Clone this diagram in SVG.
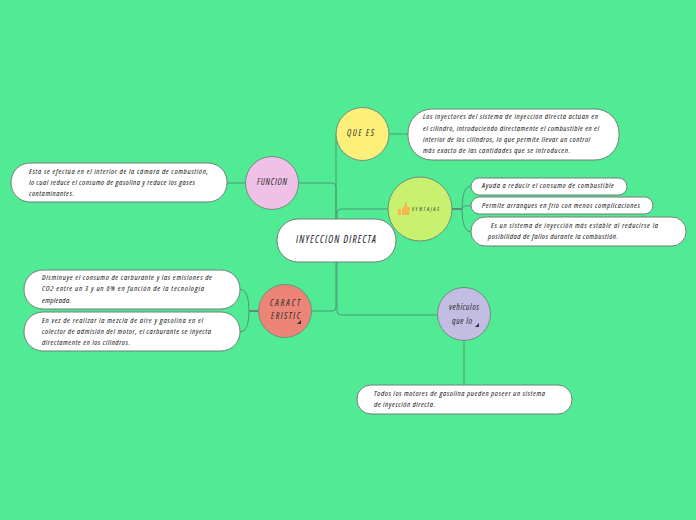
<svg xmlns="http://www.w3.org/2000/svg" width="696" height="520" viewBox="0 0 696 520">
<style>
.c{fill:none;stroke:#4f9a78;stroke-width:1}
.t{fill:none;stroke:#55917a;stroke-width:1.800}
.b{fill:#fff;stroke:#6f7f76;stroke-width:1}
.o{stroke:#6f8f7c;stroke-width:1}
text{font-family:"Open Sans","Liberation Sans",Arial,sans-serif;font-stretch:75%;font-style:italic;fill:#111;font-size:7.800px}
.n{font-size:8.800px;fill:#2a2a2a}
.m{font-size:10px;fill:#15152a}
</style>
<rect width="696" height="520" fill="#50eb94"/>
<g id="connectors">
<path class="c" d="M336 219V134H340M298 183H332Q336 183 336 187V219M388 209H341Q337 209 337 213V219"/>
<path class="c" d="M336 262V307Q336 311 332 311H311M337 262V311Q337 315 341 315H438"/>
<path class="c" d="M388 134H408M246 183H227"/>
<path class="c" d="M462 209Q462 186 471 186M462 209Q462 205.500 471 205.500M462 209Q462 232 471 232"/>
<path class="t" d="M452 209H462M249 311H258"/>
<path class="c" d="M249 311Q249 289 240 289M249 311Q249 332 240 332"/>
<path class="c" d="M464 341V385"/>
</g>
<g id="root"><rect class="b" x="277" y="219" width="119" height="43" rx="21"/><text class="m" x="296" y="243" textLength="80">INYECCION DIRECTA</text></g>
<g id="que-es"><circle class="o" cx="362.500" cy="134" r="26.500" fill="#fdf07a"/><text class="n" x="347" y="136" textLength="27">QUE ES</text></g>
<g id="que-es-text"><rect class="b" x="408" y="109" width="211" height="51" rx="24"/>
<text x="423" y="119" textLength="175">Los inyectores del sistema de inyección directa actúan en</text>
<text x="423" y="131" textLength="176">el cilindro, introduciendo directamente el combustible en el</text>
<text x="423" y="142" textLength="167">interior de los cilindros, lo que permite llevar un control</text>
<text x="423" y="153" textLength="147">más exacto de las cantidades que se introducen.</text></g>
<g id="funcion"><circle class="o" cx="272" cy="183" r="26.500" fill="#efc1e6"/><text class="n" x="257" y="185" textLength="30">FUNCION</text></g>
<g id="funcion-text"><rect class="b" x="11" y="163" width="216" height="39" rx="19"/>
<text x="29" y="174" textLength="179">Esta se efectúa en el interior de la cámara de combustión,</text>
<text x="29" y="185" textLength="166">lo cual reduce el consumo de gasolina y reduce los gases</text>
<text x="29" y="196" textLength="45">contaminantes.</text></g>
<g id="ventajas"><circle class="o" cx="420" cy="209" r="32" fill="#c9f170"/>
<path d="M398 215V209H401V215ZM402 209L405 205V202Q407 202 407 205V207H410L409 215H402Z" fill="#f5b84e"/>
<text x="412" y="211" textLength="27" style="font-size:5.500px;fill:#333">VENTAJAS</text></g>
<g id="v1"><rect class="b" x="471" y="178" width="156" height="17" rx="8.500"/><text x="482" y="188" textLength="132">Ayuda a reducir el consumo de combustible</text></g>
<g id="v2"><rect class="b" x="471" y="197" width="182" height="17" rx="8.500"/><text x="482" y="208" textLength="158">Permite arranques en frío con menos complicaciones</text></g>
<g id="v3"><rect class="b" x="471" y="217" width="215" height="29" rx="14"/>
<text x="491" y="228" textLength="167">Es un sistema de inyección más estable al reducirse la</text>
<text x="488" y="239" textLength="130">posibilidad de fallos durante la combustión.</text></g>
<g id="caract"><circle class="o" cx="285" cy="311" r="26.500" fill="#ec8578"/>
<text class="n" x="270" y="306" textLength="30">CARACT</text><text class="n" x="271" y="319" textLength="29">ERISTIC</text>
<path d="M297 324H301V320Z" fill="#333"/></g>
<g id="c1"><rect class="b" x="24" y="270" width="216" height="39" rx="19"/>
<text x="42" y="280" textLength="170">Disminuye el consumo de carburante y las emisiones de</text>
<text x="42" y="291" textLength="162">CO2 entre un 3 y un 6% en función de la tecnología</text>
<text x="42" y="303" textLength="29">empleada.</text></g>
<g id="c2"><rect class="b" x="24" y="312" width="216" height="39" rx="19"/>
<text x="42" y="323" textLength="161">En vez de realizar la mezcla de aire y gasolina en el</text>
<text x="42" y="334" textLength="169">colector de admisión del motor, el carburante se inyecta</text>
<text x="42" y="345" textLength="88">directamente en los cilindros.</text></g>
<g id="vehiculos"><circle class="o" cx="464" cy="314" r="26.500" fill="#c3bde4"/>
<text class="n" x="449" y="310" textLength="30">vehículos</text><text class="n" x="452" y="324" textLength="20">que lo</text>
<path d="M475 327H479V323Z" fill="#333"/></g>
<g id="veh-text"><rect class="b" x="357" y="385" width="215" height="29" rx="14"/>
<text x="374" y="396" textLength="171">Todos los motores de gasolina pueden poseer un sistema</text>
<text x="374" y="407" textLength="61">de inyección directa.</text></g>
</svg>
